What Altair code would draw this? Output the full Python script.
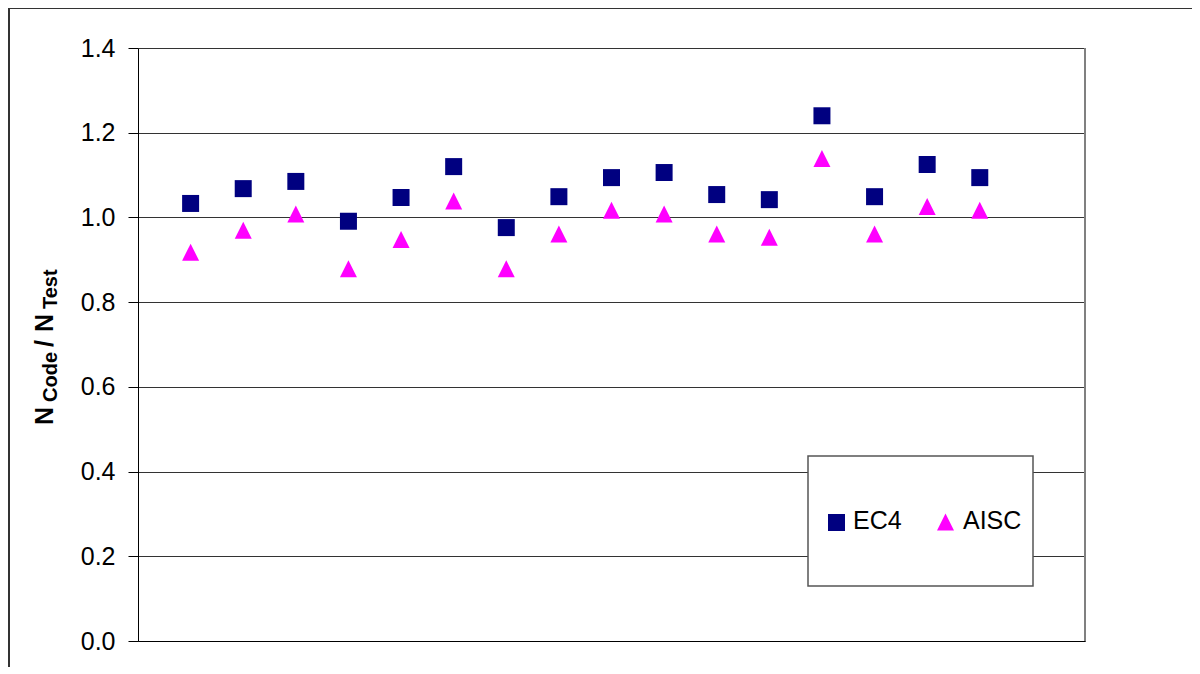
import altair as alt
import pandas as pd

# ---- data ----
specimen = list(range(1, 17))
ec4 = [1.033, 1.068, 1.085, 0.991, 1.047, 1.120, 0.976, 1.049,
       1.094, 1.106, 1.054, 1.042, 1.240, 1.049, 1.125, 1.094]
aisc = [0.918, 0.970, 1.008, 0.879, 0.948, 1.039, 0.879, 0.961,
        1.017, 1.008, 0.961, 0.953, 1.139, 0.961, 1.026, 1.017]
y_ticks = [0.0, 0.2, 0.4, 0.6, 0.8, 1.0, 1.2, 1.4]
series_names = ["EC4", "AISC"]

df = pd.DataFrame({"i": specimen, "EC4": ec4, "AISC": aisc})
one = pd.DataFrame({"a": [0]})

W, H = 947, 593
FONT = "Liberation Sans"
NAVY = "#000080"
MAG = "#FF00FF"
TRI = "M0,-1L1,1L-1,1Z"

xs = alt.Scale(domain=[0, 18])
ys = alt.Scale(domain=[0, 1.4])

x_enc = alt.X("i:Q", scale=xs,
              axis=alt.Axis(labels=False, ticks=False, grid=False, title=None,
                            domainColor="black", domainWidth=1))
y_axis = alt.Axis(values=y_ticks, format=".1f", title=None,
                  labelFont=FONT, labelFontSize=25, labelColor="black",
                  labelPadding=13, tickSize=10, tickColor="black",
                  domainColor="black", gridColor="#333333", gridWidth=1)

ec4_layer = alt.Chart(df).mark_point(
    shape="square", filled=True, size=289, color=NAVY, opacity=1
).encode(x=x_enc, y=alt.Y("EC4:Q", scale=ys, axis=y_axis))

aisc_layer = alt.Chart(df).mark_point(
    shape=TRI, filled=True, size=289, color=MAG, opacity=1
).encode(x=alt.X("i:Q", scale=xs), y=alt.Y("AISC:Q", scale=ys))

# right edge of the plot area
right_edge = alt.Chart(one).mark_rule(color="#808080", strokeWidth=2).encode(
    x=alt.value(W), y=alt.value(0), y2=alt.value(H))

# outer chart frame
frame = alt.Chart(one).mark_rect(fill="transparent", stroke="#333333", strokeWidth=2).encode(
    x=alt.value(-129), x2=alt.value(1300), y=alt.value(-40), y2=alt.value(900))

# legend box
leg_box = alt.Chart(one).mark_rect(fill="white", stroke="#555555", strokeWidth=1.5).encode(
    x=alt.value(670), x2=alt.value(895), y=alt.value(408), y2=alt.value(538))
leg_sq = alt.Chart(one).mark_point(shape="square", filled=True, size=289, color=NAVY, opacity=1).encode(
    x=alt.value(698.5), y=alt.value(474.5))
leg_tri = alt.Chart(one).mark_point(shape=TRI, filled=True, size=289, color=MAG, opacity=1).encode(
    x=alt.value(807.5), y=alt.value(474))
leg_t1 = alt.Chart(one).mark_text(text=series_names[0], font=FONT, fontSize=25, align="left",
                                  baseline="middle", color="black").encode(
    x=alt.value(715), y=alt.value(473))
leg_t2 = alt.Chart(one).mark_text(text=series_names[1], font=FONT, fontSize=25, align="left",
                                  baseline="middle", color="black").encode(
    x=alt.value(825), y=alt.value(473))

# rotated y-axis title "N_Code / N_Test"
def title_piece(txt, size, xb, ystart):
    return alt.Chart(one).mark_text(text=txt, font=FONT, fontSize=size, fontWeight="bold",
                                    angle=270, align="left", baseline="alphabetic",
                                    color="black").encode(x=alt.value(xb), y=alt.value(ystart))

t_pieces = [
    title_piece("N", 25, -85, 377),
    title_piece("Code", 20, -81, 354),
    title_piece("/", 25, -85, 299),
    title_piece("N", 25, -85, 284),
    title_piece("Test", 20, -81, 261),
]

chart = alt.layer(frame, ec4_layer, aisc_layer, right_edge, leg_box, leg_sq, leg_tri,
                  leg_t1, leg_t2, *t_pieces).properties(
    width=W, height=H,
    autosize=alt.AutoSizeParams(type="none"),
    padding={"left": 130, "top": 40, "right": 107, "bottom": 26},
).configure_view(strokeWidth=0).configure(background="white")

chart.save("out.html", embed_options={"renderer": "svg", "actions": False})
